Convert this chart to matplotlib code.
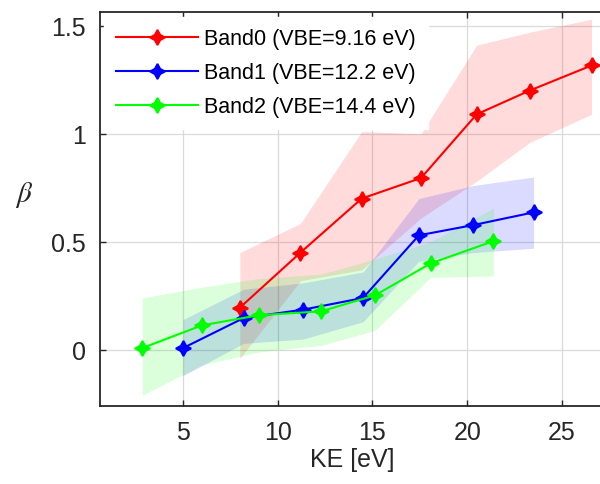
import numpy as np
import matplotlib
matplotlib.use("Agg")
import matplotlib.pyplot as plt

plt.rcParams['font.family'] = ['Liberation Sans', 'DejaVu Sans']
plt.rcParams['mathtext.fontset'] = 'stix'

# Beta parameter vs kinetic energy for three bands, with uncertainty ranges
ke0 = [8.0, 11.2, 14.43, 17.56, 20.5, 23.3, 26.56]
beta0 = [0.195, 0.45, 0.70, 0.795, 1.09, 1.20, 1.316]
hi0 = [0.45, 0.585, 1.01, 1.00, 1.41, 1.47, 1.53]
lo0 = [-0.04, 0.32, 0.37, 0.61, 0.78, 0.96, 1.09]

ke1 = [5.0, 8.2, 11.35, 14.5, 17.45, 20.3, 23.5]
beta1 = [0.008, 0.147, 0.186, 0.24, 0.53, 0.577, 0.636]
hi1 = [0.14, 0.28, 0.31, 0.36, 0.70, 0.76, 0.80]
lo1 = [-0.12, 0.03, 0.05, 0.13, 0.41, 0.45, 0.47]

ke2 = [2.85, 5.99, 9.0, 12.28, 15.13, 18.07, 21.38]
beta2 = [0.008, 0.113, 0.16, 0.178, 0.252, 0.40, 0.503]
hi2 = [0.24, 0.29, 0.33, 0.35, 0.42, 0.50, 0.655]
lo2 = [-0.21, -0.07, -0.01, 0.02, 0.09, 0.335, 0.342]

labels = ['Band0 (VBE=9.16 eV)', 'Band1 (VBE=12.2 eV)', 'Band2 (VBE=14.4 eV)']
colors = ['#ff0000', '#0000ff', '#00ff00']

fig = plt.figure(figsize=(6, 4.85), dpi=100)
ax = fig.add_axes([100/600, 78/485, 505/600, 393.7/485])

series = [(ke0, beta0, hi0, lo0), (ke1, beta1, hi1, lo1), (ke2, beta2, hi2, lo2)]
for (x, y, hi, lo), c in zip(series, colors):
    ax.fill_between(x, lo, hi, color=c, alpha=0.14, linewidth=0, zorder=1)
for (x, y, hi, lo), c, lab in zip(series, colors, labels):
    ax.plot(x, y, color=c, lw=1.5, marker=(4, 1, 0), ms=11, mew=1.3,
            label=lab, zorder=3)

ax.set_xlim(0.62, 27.27)
ax.set_ylim(-0.26, 1.562)
ax.set_xticks([5, 10, 15, 20, 25])
ax.set_yticks([0, 0.5, 1, 1.5])
ax.set_yticklabels(['0', '0.5', '1', '1.5'])
ax.grid(True, color='#dadada', lw=0.9)
ax.set_axisbelow(True)

ax.tick_params(direction='in', length=4, width=1, top=True, right=False,
               labelsize=18, colors='#262626', pad=10)
for s in ax.spines.values():
    s.set_linewidth(1.3)
    s.set_color('#262626')

ax.set_xlabel('KE [eV]', fontsize=18, color='#262626', labelpad=2)
ax.set_ylabel(r'$\beta$', fontsize=21, rotation=0, color='#262626', labelpad=20)

leg = ax.legend(loc='upper left', fontsize=15.5, frameon=True, handlelength=3.8,
                handletextpad=0.3, labelspacing=0.6, borderpad=0.55,
                borderaxespad=0.2, fancybox=False)
leg.get_frame().set_edgecolor('white')
leg.get_frame().set_alpha(1)

fig.savefig('out.png', dpi=100)
